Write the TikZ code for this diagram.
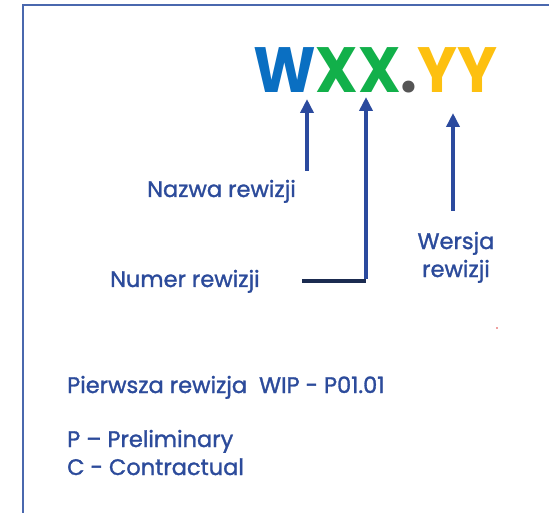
\documentclass[tikz,border=0pt]{standalone}
\usepackage{fontspec}
\setmainfont{Poppins}
\newfontfamily\labelfont{Poppins}[FakeBold=1.3]
\usetikzlibrary{arrows.meta}
\definecolor{framec}{HTML}{4A68AE}
\definecolor{txtc}{HTML}{2C4B9B}
\definecolor{arrc}{HTML}{2B4A9E}
\definecolor{navyc}{HTML}{1B2B50}
\definecolor{wblue}{HTML}{0A6FC2}
\definecolor{xgreen}{HTML}{12B04A}
\definecolor{dgrey}{HTML}{555555}
\definecolor{yyellow}{HTML}{FDC010}
\definecolor{dotred}{HTML}{E04040}
\begin{document}
\begin{tikzpicture}[x=1pt,y=-1pt,
  framestyle/.style={draw=framec,line width=2pt},
  label/.style={inner sep=0pt,text=txtc,font=\labelfont\fontsize{22.5}{28}\selectfont},
  uparrow/.style={draw=arrc,line width=4pt,-{Triangle[length=14pt,width=13pt]}},
  baseline/.style={draw=navyc,line width=4pt}]
\useasboundingbox (0,0) rectangle (549,513);
\fill[white] (0,0) rectangle (549,513);
\draw[framestyle] (23,513) |- (549,5);
\node[inner sep=0pt,anchor=base west,font=\fontsize{64}{64}\selectfont\bfseries] (code) at (253,93)
  {\scalebox{0.93}[1]{\textcolor{wblue}{W}\textcolor{xgreen}{XX}\textcolor{dgrey}{.}\textcolor{yyellow}{YY}}};
% arrows
\coordinate (nazS) at (307,171);
\coordinate (nazT) at (307,99);
\draw[uparrow] (nazS) -- (nazT);
\coordinate (numL) at (302,281);
\coordinate (numC) at (366,281);
\coordinate (numT) at (366,97);
\draw[baseline] (numL) -- (numC);
\draw[uparrow] ([yshift=2pt]numC) -- (numT);
\coordinate (werS) at (453,211);
\coordinate (werT) at (453,113);
\draw[uparrow] (werS) -- (werT);
% labels
\node[label,anchor=base west] (naz) at (147,197) {Nazwa rewizji};
\node[label,anchor=base west] (num) at (110,287) {Numer rewizji};
\node[label,anchor=base,align=center] (wer) at (456,277) {Wersja\\rewizji};
\node[label,anchor=base west] (pierw) at (67,393) {Pierwsza rewizja\ \ WIP - P01.01};
\node[label,anchor=base west,align=left] (pc) at (67,475) {P – Preliminary\\C - Contractual};
\fill[dotred] (497,328) circle (0.8pt);
\end{tikzpicture}
\end{document}
